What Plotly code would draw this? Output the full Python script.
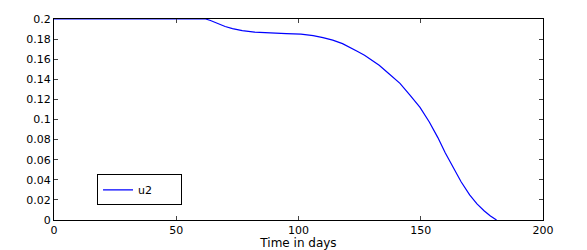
import plotly.graph_objects as go

t_days = [0, 62, 64, 66, 68, 70, 73, 77, 82, 88, 95, 101, 106, 110, 114, 118, 121, 124, 127, 130, 133, 137, 141.5, 145.5, 149.7, 153.5, 157, 160, 163.2, 166.5, 170, 173, 176, 178.5, 181]
u2 = [0.2, 0.2, 0.1985, 0.1965, 0.1945, 0.1925, 0.1905, 0.1885, 0.187, 0.186, 0.1855, 0.185, 0.1835, 0.1815, 0.179, 0.1755, 0.172, 0.168, 0.164, 0.159, 0.154, 0.1455, 0.136, 0.1245, 0.112, 0.0975, 0.082, 0.067, 0.052, 0.038, 0.025, 0.016, 0.009, 0.004, 0]

x_ticks = [0, 50, 100, 150, 200]
y_ticks = [0, 0.02, 0.04, 0.06, 0.08, 0.1, 0.12, 0.14, 0.16, 0.18, 0.2]
y_labels = ["0", "0.02", "0.04", "0.06", "0.08", "0.1", "0.12", "0.14", "0.16", "0.18", "0.2"]

fig = go.Figure()
fig.add_trace(go.Scatter(x=t_days, y=u2, mode="lines", name="u2",
                         line=dict(color="#0000ff", width=1.2, shape="linear")))

fam = "DejaVu Sans, Verdana, sans-serif"
font = dict(family=fam, size=11, color="black")
# the page body adds an 8px offset, so the figure is 8px smaller and margins shifted
fig.update_layout(
    width=579, height=242,
    margin=dict(l=46, r=44, t=11, b=30, autoexpand=False),
    paper_bgcolor="white", plot_bgcolor="white",
    font=font,
    showlegend=True,
    legend=dict(x=0.088, y=0.15, xanchor="left", yanchor="middle",
                orientation="h", entrywidth=38,
                bordercolor="black", borderwidth=1, bgcolor="white",
                font=dict(family=fam, size=11, color="black"),
                itemwidth=30),
    xaxis=dict(range=[0, 200], tickvals=x_ticks, ticks="inside", ticklen=4,
               showline=True, linecolor="black", linewidth=1, mirror="ticks",
               showgrid=False, zeroline=False, automargin=False,
               title=dict(text="Time in days", standoff=0,
                          font=dict(family=fam, size=12, color="black"))),
    yaxis=dict(range=[0, 0.2], tickvals=y_ticks, ticktext=y_labels, ticks="inside", ticklen=4,
               showline=True, linecolor="black", linewidth=1, mirror="ticks",
               showgrid=False, zeroline=False, automargin=False),
)

fig.write_html("out.html")
